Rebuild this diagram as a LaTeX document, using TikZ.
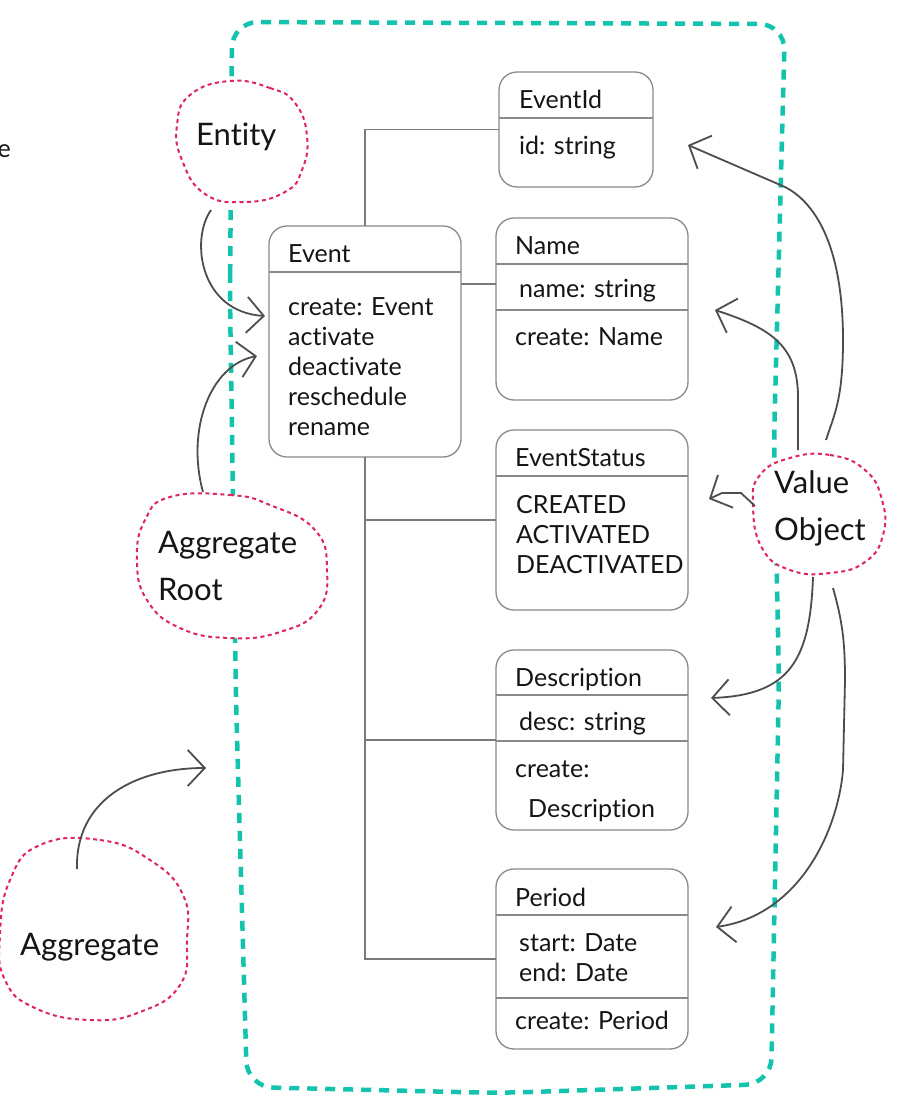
\documentclass[tikz,border=0pt]{standalone}
\usepackage{fontspec}
\setmainfont{Lato}[Ligatures=NoCommon]
\usepackage{xcolor}
\usepackage{tikz}
\usetikzlibrary{arrows.meta,positioning,calc}

\definecolor{boundteal}{HTML}{14C3AD}
\definecolor{cloudred}{HTML}{E0245E}
\definecolor{boxgray}{HTML}{8A8A8A}
\definecolor{linkgray}{HTML}{7A7A7A}
\definecolor{arrowgray}{HTML}{4D4D4D}
\definecolor{ink}{HTML}{151515}

\begin{document}
\begin{tikzpicture}[
    x=1pt, y=-1pt,
    umlbox/.style={rectangle, draw=boxgray, line width=1.3pt, rounded corners=18pt, minimum width=192pt, inner sep=0pt, outer sep=0pt},
    divider/.style={draw=boxgray, line width=1.3pt},
    link/.style={draw=linkgray, line width=1.2pt},
    txt/.style={anchor=base west, inner sep=0pt, align=left, text=ink, font=\fontsize{25}{30}\selectfont},
    note/.style={anchor=base west, inner sep=0pt, align=left, text=ink, font=\fontsize{31}{47}\selectfont},
    blob/.style={draw=cloudred, fill=white, line width=2pt, dash pattern=on 4pt off 3.5pt},
    boundary/.style={draw=boundteal, line width=4.5pt, dash pattern=on 10pt off 8pt, rounded corners=26pt},
    sketch/.style={draw=arrowgray, line width=1.8pt, -{Straight Barb[length=17pt, width=36pt]}}
]
\fill[white] (0,0) rectangle (901,1100);
\useasboundingbox (0,0) rectangle (901,1100);
\clip (0,0) rectangle (901,1100);

% aggregate boundary
\draw[boundary] (230,300) -- (232,22) -- (785,24) -- (774,440) -- (779,680) -- (771,1084)
    -- (500,1093) -- (247,1087) -- (236,700) -- cycle;

% dotted clouds
\draw[blob] plot[smooth cycle, tension=0.8] coordinates {(230,81) (270,88) (295,103) (307,136)
    (302,170) (285,192) (245,202) (205,194) (182,160) (177,125) (190,95)};
\draw[blob] plot[smooth cycle, tension=0.8] coordinates {(170,497) (230,495) (270,505) (315,530)
    (327,570) (318,610) (280,632) (230,638) (180,628) (147,600) (137,560) (145,520)};
\draw[blob] plot[smooth cycle, tension=0.8] coordinates {(790,458) (830,455) (865,470) (882,500)
    (883,535) (865,562) (830,573) (790,570) (762,548) (753,505) (760,475)};
\draw[blob] plot[smooth cycle, tension=0.8] coordinates {(40,845) (100,840) (150,860) (183,895)
    (187,940) (180,985) (140,1012) (90,1020) (35,1008) (5,980) (0,935) (10,880)};

\node[txt, anchor=base east] (cut) at (11,157) {e};
\node[note] (entity) at (196,145) {Entity};
\node[note] (aggroot) at (158,600) {Aggregate\\Root};
\node[note] (valueobj) at (774,540) {Value\\Object};
\node[note] (aggregate) at (20,955) {Aggregate};

% classes
\node[umlbox, minimum width=154pt, minimum height=115pt] (eventid) at (576,129.5) {};
\draw[divider] ([yshift=-46pt]eventid.north west) -- ([yshift=-46pt]eventid.north east);
\node[txt] (eventidname) at (519,108) {EventId};
\node[txt] (eventidattr) at (519,154) {id: string};

\node[umlbox, minimum height=231pt] (event) at (365,341.5) {};
\draw[divider] ([yshift=-46pt]event.north west) -- ([yshift=-46pt]event.north east);
\node[txt] (eventname) at (288,262) {Event};
\node[txt] (eventops) at (288,435) {create: Event\\activate\\deactivate\\reschedule\\rename};

\node[umlbox, minimum height=182pt] (name) at (592,309) {};
\draw[divider] ([yshift=-46pt]name.north west) -- ([yshift=-46pt]name.north east);
\draw[divider] ([yshift=-92pt]name.north west) -- ([yshift=-92pt]name.north east);
\node[txt] (namename) at (515,254) {Name};
\node[txt] (nameattr) at (519,297) {name: string};
\node[txt] (nameops) at (515,345) {create: Name};

\node[umlbox, minimum height=180pt] (eventstatus) at (592,520) {};
\draw[divider] ([yshift=-46pt]eventstatus.north west) -- ([yshift=-46pt]eventstatus.north east);
\node[txt] (statusname) at (515,466) {EventStatus};
\node[txt] (statusvals) at (516,573) {CREATED\\ACTIVATED\\DEACTIVATED};

\node[umlbox, minimum height=180pt] (description) at (592,740) {};
\draw[divider] ([yshift=-45pt]description.north west) -- ([yshift=-45pt]description.north east);
\draw[divider] ([yshift=-91pt]description.north west) -- ([yshift=-91pt]description.north east);
\node[txt] (descname) at (515,686) {Description};
\node[txt] (descattr) at (519,730) {desc: string};
\node[txt] (descops) at (515,777) {create:};
\node[txt] (descopstype) at (528,817) {Description};

\node[umlbox, minimum height=180pt] (period) at (592,959) {};
\draw[divider] ([yshift=-46pt]period.north west) -- ([yshift=-46pt]period.north east);
\draw[divider] ([yshift=-129pt]period.north west) -- ([yshift=-129pt]period.north east);
\node[txt] (periodname) at (515,906) {Period};
\node[txt] (periodattr) at (519,981) {start: Date\\end: Date};
\node[txt] (periodops) at (515,1029) {create: Period};

% links
\draw[link] (event.north) |- (eventid.west);
\draw[link] ([yshift=25pt]name.west) -- ([yshift=25pt]name.west -| event.east);
\draw[link] (event.south) |- (period.west);
\draw[link] (event.south |- eventstatus.west) -- (eventstatus.west);
\draw[link] (event.south |- description.west) -- (description.west);

% sketched arrows
\coordinate (aggtip) at (206,768);
\draw[sketch] ([shift={(15,65)}]entity.base west) .. controls (190,240) and (200,312) .. ([shift={(-4,-25.5)}]event.west);
\draw[sketch] ([shift={(45,-108)}]aggroot.base west) .. controls (186,430) and (210,365) .. ([shift={(-12,14.5)}]event.west);
\draw[sketch] ([shift={(57,-86)}]aggregate.base west) .. controls (75,800) and (135,768) .. (aggtip);
\draw[sketch] ([shift={(52,-100)}]valueobj.base west) .. controls (834,415) and (843,400) .. (843,340)
    .. controls (843,255) and (820,205) .. (785,187) -- ([shift={(35,15.5)}]eventid.east);
\draw[sketch] ([shift={(24,-90)}]valueobj.base west) -- (798,395) .. controls (797,345) and (770,328) .. ([shift={(27,1)}]name.east);
\draw[sketch] ([shift={(-19,-34)}]valueobj.base west) -- (741,493) -- (722,493) -- ([shift={(21,-21)}]eventstatus.east);
\draw[sketch] ([shift={(39,37)}]valueobj.base west) .. controls (810,660) and (790,695) .. ([shift={(23,-42)}]description.east);
\draw[sketch] ([shift={(59,48)}]valueobj.base west) .. controls (842,620) and (845,640) .. (845,680) -- (843,770)
    .. controls (838,830) and (800,915) .. ([shift={(28,-32)}]period.east);
\end{tikzpicture}
\end{document}
